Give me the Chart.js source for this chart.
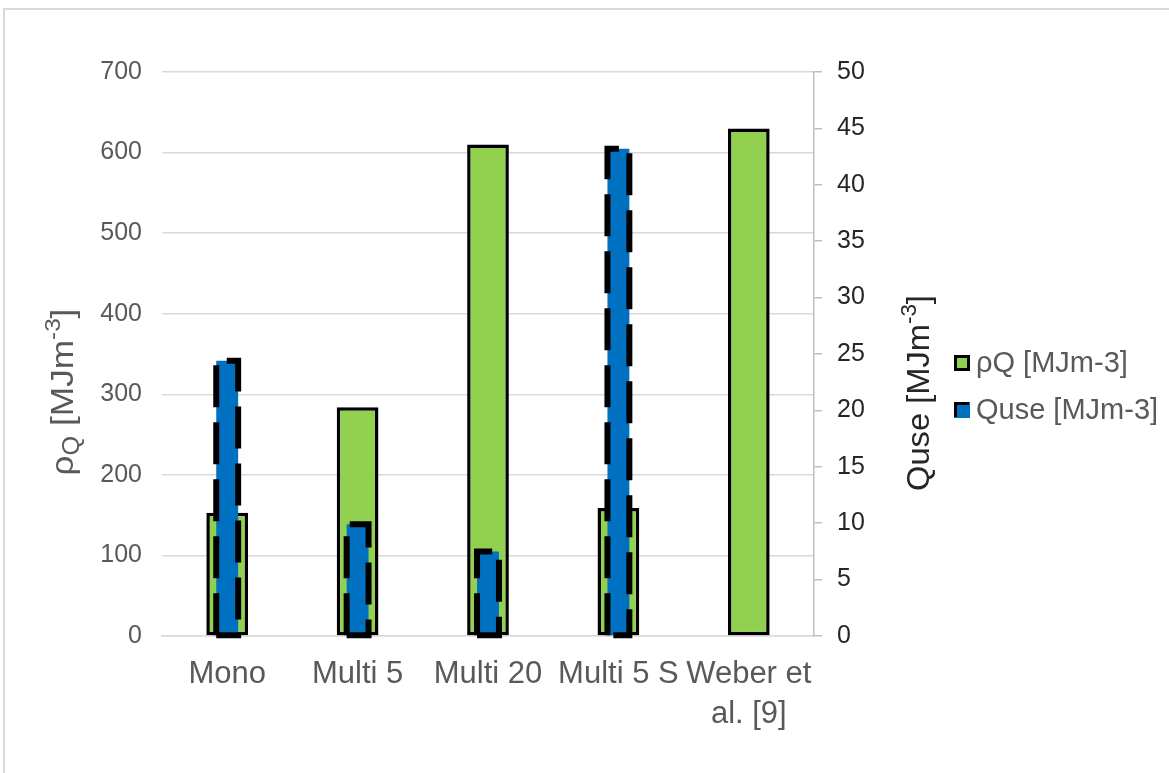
<!DOCTYPE html>
<html>
<head>
<meta charset="utf-8">
<script src="https://cdn.jsdelivr.net/npm/chart.js@4.4.1/dist/chart.umd.min.js"></script>
<style>
  html, body { margin: 0; padding: 0; background: #ffffff; overflow: hidden; }
  #frame { position: absolute; left: 3px; top: 8px; width: 1300px; height: 900px; border: 2px solid #d9d9d9; box-sizing: border-box; }
  #c { position: absolute; left: 0; top: 0; }
</style>
</head>
<body>
<div id="frame"></div>
<canvas id="c" width="1169" height="773"></canvas>
<script>
// ---- data ----
const categories = ['Mono', 'Multi 5', 'Multi 20', 'Multi 5 S', ['Weber et', 'al. [9]']];
const rhoQ = [153, 284, 610, 159, 630];           // left axis, MJm-3
const qUse = [24.4, 9.9, 7.5, 43.2, null];         // right axis, MJm-3
const seriesNames = ['ρQ [MJm-3]', 'Quse [MJm-3]'];
const leftTicks = { min: 0, max: 700, step: 100 };
const rightTicks = { min: 0, max: 50, step: 5 };

const GREEN = '#92d050';
const BLUE = '#0070c0';
const FONT = "'Liberation Sans', Arial, sans-serif";

// draw text composed of parts (normal/sub/sup), optionally rotated -90deg
function drawRich(ctx, parts, cx, cy, rotate, color, stretch) {
  ctx.save();
  ctx.fillStyle = color;
  ctx.textBaseline = 'alphabetic';
  ctx.textAlign = 'left';
  let total = 0;
  parts.forEach(p => { ctx.font = p.size + 'px ' + FONT; p.w = ctx.measureText(p.t).width; total += p.w; });
  ctx.translate(cx, cy);
  if (rotate) ctx.rotate(-Math.PI / 2);
  ctx.scale(stretch || 1, 1);
  let x = -total / 2;
  const base = 11; // baseline offset so that cap-middle is near centre
  parts.forEach(p => {
    ctx.font = p.size + 'px ' + FONT;
    ctx.fillText(p.t, x, base + (p.dy || 0));
    x += p.w;
  });
  ctx.restore();
}

const customDraw = {
  id: 'customDraw',
  afterDatasetDraw(chart, args) {
    if (args.index !== 1) return;
    const ctx = chart.ctx;
    const meta = args.meta;
    ctx.save();
    ctx.setLineDash([42, 15]);
    ctx.lineWidth = 6;
    ctx.strokeStyle = '#000000';
    meta.data.forEach((el, i) => {
      if (qUse[i] === null || qUse[i] === undefined) return;
      const p = el.getProps(['x', 'y', 'base', 'width'], true);
      const l = p.x - p.width / 2, r = p.x + p.width / 2;
      ctx.beginPath();
      ctx.moveTo(l, p.base);
      ctx.lineTo(l, p.y);
      ctx.lineTo(r, p.y);
      ctx.lineTo(r, p.base);
      ctx.lineTo(l, p.base);
      ctx.stroke();
    });
    ctx.restore();
  },
  afterDraw(chart) {
    const ctx = chart.ctx;
    // axis titles
    drawRich(ctx, [
      { t: 'ρ', size: 32 },
      { t: 'Q', size: 23, dy: 6 },
      { t: ' [MJm', size: 32 },
      { t: '-3', size: 22, dy: -13 },
      { t: ']', size: 32 }
    ], 62, 392, true, '#595959', 1.1);
    drawRich(ctx, [
      { t: 'Quse [MJm', size: 32 },
      { t: '-3', size: 22, dy: -13 },
      { t: ']', size: 32 }
    ], 918, 393, true, '#262626', 1.02);
    // legend
    const items = [
      { name: seriesNames[0], fill: GREEN, y: 363 },
      { name: seriesNames[1], fill: BLUE, y: 410 }
    ];
    ctx.save();
    items.forEach((it, k) => {
      const bx = 954, by = it.y - 8;
      ctx.fillStyle = it.fill;
      ctx.fillRect(bx, by, 16, 16);
      ctx.strokeStyle = '#000';
      ctx.lineWidth = 3;
      if (k === 0) {
        ctx.strokeRect(bx + 1.5, by + 1.5, 13, 13);
      } else {
        ctx.beginPath();
        ctx.moveTo(bx + 1.5, by + 15);
        ctx.lineTo(bx + 1.5, by + 1.5);
        ctx.lineTo(bx + 15, by + 1.5);
        ctx.stroke();
      }
      ctx.fillStyle = '#595959';
      ctx.font = '29px ' + FONT;
      ctx.textBaseline = 'middle';
      ctx.textAlign = 'left';
      ctx.fillText(it.name, 976, it.y + 1);
    });
    ctx.restore();
  }
};

new Chart(document.getElementById('c'), {
  type: 'bar',
  data: {
    labels: categories,
    datasets: [
      {
        label: seriesNames[0],
        data: rhoQ,
        yAxisID: 'y',
        backgroundColor: GREEN,
        borderColor: '#000000',
        borderWidth: 3.5,
        borderSkipped: false,
        barPercentage: 0.32,
        categoryPercentage: 1,
        grouped: false,
        order: 2
      },
      {
        label: seriesNames[1],
        data: qUse,
        yAxisID: 'y1',
        backgroundColor: BLUE,
        borderWidth: 0,
        barPercentage: 0.168,
        categoryPercentage: 1,
        grouped: false,
        order: 1
      }
    ]
  },
  options: {
    responsive: false,
    devicePixelRatio: 1,
    animation: false,
    layout: { padding: { left: 0, top: 72, right: 275, bottom: 37 } },
    plugins: { legend: { display: false }, tooltip: { enabled: false } },
    scales: {
      x: {
        grid: { display: false, drawTicks: false },
        border: { display: true, color: '#d9d9d9', width: 1.5 },
        ticks: {
          color: '#595959',
          font: { family: FONT, size: 31, lineHeight: 1.27 },
          padding: 19,
          autoSkip: false,
          maxRotation: 0,
          minRotation: 0
        },
        afterFit(s) { s.height = 100; }
      },
      y: {
        position: 'left',
        min: leftTicks.min, max: leftTicks.max,
        grid: { color: '#d9d9d9', lineWidth: 1.5, drawTicks: false },
        border: { display: false },
        ticks: {
          stepSize: leftTicks.step,
          color: '#595959',
          font: { family: FONT, size: 25 },
          padding: 20
        },
        afterFit(s) { s.width = 162; }
      },
      y1: {
        position: 'right',
        min: rightTicks.min, max: rightTicks.max,
        grid: { drawOnChartArea: false, drawTicks: true, tickLength: 8, color: '#bfbfbf', lineWidth: 1.5 },
        border: { display: true, color: '#bfbfbf', width: 1.5 },
        ticks: {
          stepSize: rightTicks.step,
          color: '#262626',
          font: { family: FONT, size: 25 },
          padding: 15
        },
        afterFit(s) { s.width = 80; }
      }
    }
  },
  plugins: [customDraw]
});
</script>
</body>
</html>
